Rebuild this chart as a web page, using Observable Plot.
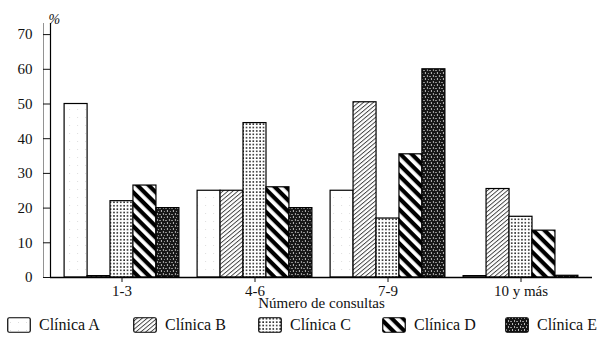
<!DOCTYPE html>
<html>
<head>
<meta charset="utf-8">
<script src="https://cdn.jsdelivr.net/npm/d3@7"></script>
<script src="https://cdn.jsdelivr.net/npm/@observablehq/plot@0.6"></script>
<style>
  html, body { margin: 0; padding: 0; background: #fff; }
  body { width: 608px; height: 340px; overflow: hidden; font-family: "Liberation Serif", "Times New Roman", Times, "DejaVu Serif", serif; }
  #legend { position: relative; height: 26px; }
  .item { position: absolute; top: 2px; display: flex; align-items: center; font-size: 16px; color: #111; font-family: "Liberation Serif", "Times New Roman", Times, "DejaVu Serif", serif; }
  .item svg { margin-right: 8px; }
  #chart svg text { font-family: "Liberation Serif", "Times New Roman", Times, "DejaVu Serif", serif; }
</style>
</head>
<body>
<svg width="0" height="0" style="position:absolute">
  <defs>
    <pattern id="pA" width="8" height="8" patternUnits="userSpaceOnUse">
      <rect width="8" height="8" fill="#fff"/>
      <rect x="3" y="5" width="0.8" height="0.8" fill="#ccc"/>
    </pattern>
    <pattern id="pB" width="3.2" height="3.2" patternUnits="userSpaceOnUse" patternTransform="rotate(-40)">
      <rect width="3.2" height="3.2" fill="#fff"/>
      <line x1="0" y1="0.5" x2="3.2" y2="0.5" stroke="#222" stroke-width="0.8"/>
    </pattern>
    <pattern id="pC" width="3.4" height="3.4" patternUnits="userSpaceOnUse">
      <rect width="3.4" height="3.4" fill="#fff"/>
      <rect x="1" y="1" width="1.5" height="1.5" fill="#111"/>
    </pattern>
    <pattern id="pD" width="8" height="8" patternUnits="userSpaceOnUse" patternTransform="rotate(45)">
      <rect width="8" height="8" fill="#fff"/>
      <rect x="0" y="0" width="8" height="4.2" fill="#000"/>
    </pattern>
    <pattern id="pE" width="6" height="6" patternUnits="userSpaceOnUse">
      <rect width="6" height="6" fill="#161616"/>
      <rect x="1" y="0" width="1" height="2" fill="#bbb"/>
      <rect x="4" y="1" width="1" height="1" fill="#999"/>
      <rect x="3" y="3" width="1" height="2" fill="#aaa"/>
      <rect x="0" y="4" width="1" height="1" fill="#999"/>
      <rect x="5" y="4" width="1" height="1" fill="#888"/>
    </pattern>
  </defs>
</svg>
<div id="chart"></div>
<div id="legend"></div>
<script>
const categories = ["1-3", "4-6", "7-9", "10 y más"];
const clinics = ["Clínica A", "Clínica B", "Clínica C", "Clínica D", "Clínica E"];
const valuesA = [50, 25, 25, 0.4];
const valuesB = [0.4, 25, 50.5, 25.5];
const valuesC = [22, 44.5, 17, 17.5];
const valuesD = [26.5, 26, 35.5, 13.5];
const valuesE = [20, 20, 60, 0.5];
const yTicks = [0, 10, 20, 30, 40, 50, 60, 70];
const patterns = ["url(#pA)", "url(#pB)", "url(#pC)", "url(#pD)", "url(#pE)"];

const series = [valuesA, valuesB, valuesC, valuesD, valuesE];
const data = [];
series.forEach((vals, ci) => vals.forEach((v, k) => data.push({category: categories[k], clinic: clinics[ci], value: v})));

const W = 608, mL = 50, mR = 16;
const pIn = 0.828, pOut = 0.445;
const step = (W - mL - mR) / (categories.length - pIn + 2 * pOut);
const bw = step * (1 - pIn);

const font = "'Liberation Serif', 'Times New Roman', Times, 'DejaVu Serif', serif";
const marks = [];
clinics.forEach((c, i) => {
  marks.push(Plot.barY(data.filter(d => d.clinic === c), {
    x: "category", y: "value", fill: patterns[i], stroke: "#000", strokeWidth: 1.2,
    dx: (i - 2) * bw
  }));
});
marks.push(Plot.ruleY([0], {stroke: "#000", strokeWidth: 1.3}));
marks.push(Plot.frame({anchor: "left", stroke: "#000", strokeWidth: 1.2}));
marks.push(Plot.frame({anchor: "left", stroke: "#777", strokeWidth: 0.8, dx: -7}));
marks.push(Plot.axisY({ticks: yTicks, tickSize: 7, tickPadding: 11, fontSize: 15, label: null, tickFormat: d => String(d)}));
marks.push(Plot.axisX({tickSize: 5, tickPadding: 3, fontSize: 15, label: null}));
marks.push(Plot.text(["Número de consultas"], {frameAnchor: "bottom", dy: 30, fontSize: 15, fill: "#111"}));
marks.push(Plot.text(["%"], {frameAnchor: "top-left", dy: -9, dx: -2, fontSize: 14, fontStyle: "italic", fill: "#111"}));

const chart = Plot.plot({
  width: W, height: 314,
  marginLeft: mL, marginRight: mR, marginTop: 23, marginBottom: 37,
  style: {fontFamily: font, color: "#111", background: "#fff"},
  x: {type: "band", domain: categories, paddingInner: pIn, paddingOuter: pOut, axis: null},
  y: {domain: [0, 73.2], axis: null},
  marks
});
document.getElementById("chart").appendChild(chart);

const legend = document.getElementById("legend");
const lefts = [7, 133, 258, 382, 505];
clinics.forEach((c, i) => {
  const it = document.createElement("div");
  it.className = "item";
  it.style.left = lefts[i] + "px";
  it.innerHTML = `<svg width="24" height="16"><rect x="0.75" y="0.75" width="22.5" height="14.5" rx="1.5" fill="${patterns[i]}" stroke="#000" stroke-width="1.2"/></svg><span>${c}</span>`;
  legend.appendChild(it);
});
</script>
</body>
</html>
